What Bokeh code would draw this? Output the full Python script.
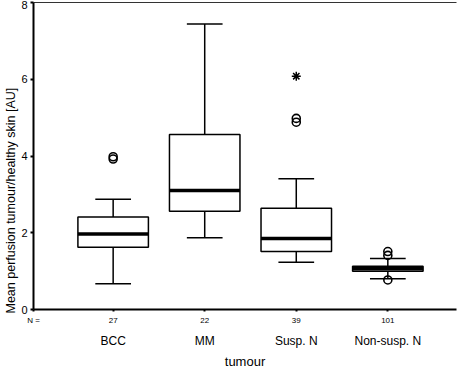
from bokeh.plotting import figure
from bokeh.models import LinearAxis, FixedTicker, Range1d, Title
from bokeh.embed import file_html
from bokeh.resources import INLINE

categories = ["BCC", "MM", "Susp. N", "Non-susp. N"]
n_counts = ["27", "22", "39", "101"]
q1 = [1.62, 2.56, 1.51, 1.00]
median = [1.97, 3.10, 1.85, 1.06]
q3 = [2.41, 4.56, 2.64, 1.13]
whisk_lo = [0.67, 1.87, 1.23, 0.80]
whisk_hi = [2.87, 7.44, 3.41, 1.33]
circle_cat = ["BCC", "BCC", "Susp. N", "Susp. N", "Non-susp. N", "Non-susp. N", "Non-susp. N"]
circle_val = [3.92, 3.98, 4.88, 4.98, 1.51, 1.41, 0.77]
star_cat = ["Susp. N"]
star_val = [6.08]
y_ticks = [0, 2, 4, 6, 8]

FONT = "Liberation Sans"
xpos = {c: i + 1 for i, c in enumerate(categories)}
xs = [xpos[c] for c in categories]
x_start, x_end = 0.13, 4.75
box_w, cap_w = 0.77, 0.39

p = figure(width=458, height=371, output_backend="svg", toolbar_location=None,
           x_range=Range1d(x_start, x_end), y_range=Range1d(0, 8),
           x_axis_type=None, y_axis_type=None,
           min_border_left=31, min_border_right=2, min_border_top=2, min_border_bottom=0)
p.outline_line_color = None
p.xgrid.visible = False
p.ygrid.visible = False
p.background_fill_color = "white"

# whiskers
p.segment(x0=xs, y0=q3, x1=xs, y1=whisk_hi, line_color="black", line_width=1.5)
p.segment(x0=xs, y0=q1, x1=xs, y1=whisk_lo, line_color="black", line_width=1.5)
p.segment(x0=[x - cap_w / 2 for x in xs], y0=whisk_hi, x1=[x + cap_w / 2 for x in xs], y1=whisk_hi,
          line_color="black", line_width=1.5)
p.segment(x0=[x - cap_w / 2 for x in xs], y0=whisk_lo, x1=[x + cap_w / 2 for x in xs], y1=whisk_lo,
          line_color="black", line_width=1.5)
# boxes
p.vbar(x=xs, width=box_w, bottom=q1, top=q3, fill_color="white", line_color="black", line_width=1.5)
p.segment(x0=[x - box_w / 2 for x in xs], y0=median, x1=[x + box_w / 2 for x in xs], y1=median,
          line_color="black", line_width=3.5)
# outliers
p.scatter(x=[xpos[c] for c in circle_cat], y=circle_val, marker="circle", size=8,
          fill_color="white", fill_alpha=0, line_color="black", line_width=1.6)
p.scatter(x=[xpos[c] for c in star_cat], y=star_val, marker="asterisk", size=9,
          line_color="black", line_width=1.5)

# y axis
yax = LinearAxis(ticker=FixedTicker(ticks=y_ticks))
yax.axis_line_width = 2
yax.major_tick_line_width = 2
yax.major_tick_out = 3
yax.major_tick_in = 0
yax.minor_tick_line_color = None
yax.major_label_text_font = FONT
yax.major_label_text_font_size = "11px"
yax.major_label_text_color = "black"
yax.major_label_standoff = 3
p.add_layout(yax, "left")

ytitle = Title(text="Mean perfusion tumour/healthy skin [AU]", align="left", offset=-4,
               text_font=FONT, text_font_size="12.5px", text_font_style="normal",
               text_color="black", standoff=2)
p.add_layout(ytitle, "left")

# top border
tax = LinearAxis(ticker=FixedTicker(ticks=[]))
tax.axis_line_width = 1
tax.axis_line_color = "#333333"
tax.major_tick_line_color = None
tax.minor_tick_line_color = None
tax.major_label_text_font_size = "0px"
p.add_layout(tax, "above")

# bottom axis with N counts
n_over = {x_start: "N ="}
for c, n in zip(categories, n_counts):
    n_over[xpos[c]] = n
nax = LinearAxis(ticker=FixedTicker(ticks=[x_start] + xs), major_label_overrides=n_over)
nax.axis_line_width = 2
nax.major_tick_line_width = 2
nax.major_tick_out = 2
nax.major_tick_in = 0
nax.minor_tick_line_color = None
nax.major_label_text_font = FONT
nax.major_label_text_font_size = "8px"
nax.major_label_text_color = "black"
nax.major_label_standoff = 4
p.add_layout(nax, "below")

# bottom axis with category names
cax = LinearAxis(ticker=FixedTicker(ticks=xs),
                 major_label_overrides={xpos[c]: c for c in categories},
                 axis_label="tumour")
cax.axis_line_color = None
cax.major_tick_line_color = None
cax.minor_tick_line_color = None
cax.major_label_text_font = FONT
cax.major_label_text_font_size = "12px"
cax.major_label_text_color = "black"
cax.major_label_standoff = 0
cax.axis_label_text_font = FONT
cax.axis_label_text_font_size = "13px"
cax.axis_label_text_font_style = "normal"
cax.axis_label_text_color = "black"
cax.axis_label_standoff = 3
p.add_layout(cax, "below")

open("out.html", "w").write(file_html(p, INLINE))
